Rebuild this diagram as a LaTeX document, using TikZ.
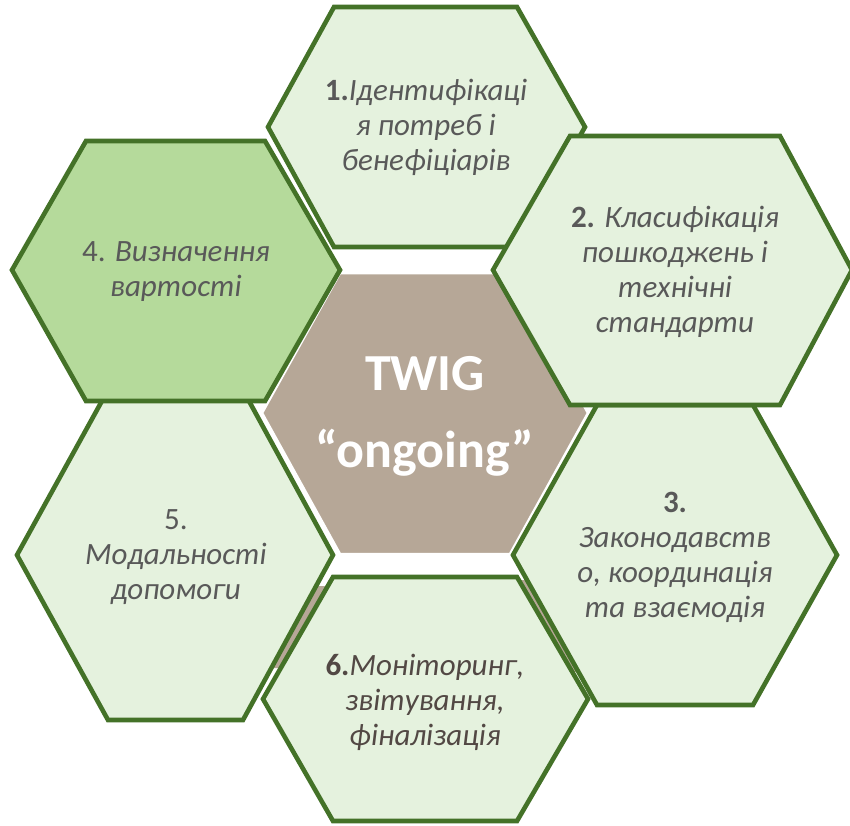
\documentclass[tikz,border=0pt]{standalone}
\usepackage{fontspec}
\setmainfont{Carlito}
\definecolor{hexline}{RGB}{68,114,40}
\definecolor{hexfill}{RGB}{229,242,222}
\definecolor{hexfilldark}{RGB}{181,218,155}
\definecolor{brownfill}{RGB}{182,167,151}
\definecolor{txtgray}{RGB}{89,89,89}
\definecolor{txtbrown}{RGB}{82,72,68}
\tikzset{
  greenhex/.style={draw=hexline, fill=hexfill, line width=4.6pt, line join=miter},
  darkhex/.style={greenhex, fill=hexfilldark},
  centerhex/.style={draw=white, fill=brownfill, line width=2.5pt},
  hextext/.style={align=center, inner sep=0pt, text=txtgray, font=\fontsize{31}{35}\selectfont},
  centertext/.style={inner sep=0pt, text=white, anchor=base, font=\fontsize{52}{60}\selectfont\bfseries}
}
\begin{document}
\begin{tikzpicture}[x=1pt, y=-1pt]
\useasboundingbox (0,0) rectangle (850,825);
% brown slivers behind
\fill[brownfill] (310,586) -- (335,586) -- (290,668) -- (265,668) -- cycle;
\fill[brownfill] (515,580) -- (535,580) -- (585,672) -- (565,672) -- cycle;
% central hexagon
\draw[centerhex] (340,273) -- (510,273) -- (588,413) -- (510,554) -- (340,554) -- (262,413) -- cycle;
% hex 5
\draw[greenhex] (108,390) -- (243,390) -- (333,555) -- (243,720) -- (108,720) -- (17,555) -- cycle;
% hex 4
\draw[darkhex] (86,141) -- (265,141) -- (340,270) -- (265,401) -- (86,401) -- (12,270) -- cycle;
% hex 1
\draw[greenhex] (334,7) -- (517,7) -- (585,127) -- (517,247) -- (334,247) -- (268,127) -- cycle;
% hex 6
\draw[greenhex] (333,577) -- (517,577) -- (588,699) -- (517,821) -- (333,821) -- (263,699) -- cycle;
% hex 3
\draw[greenhex] (597,405) -- (753,405) -- (837,555) -- (753,705) -- (597,705) -- (513,555) -- cycle;
% hex 2
\draw[greenhex] (570,136) -- (780,136) -- (852,270) -- (780,405) -- (570,405) -- (493,270) -- cycle;
% texts
\node[centertext] (c1) at (425,390) {TWIG};
\node[centertext] (c2) at (425,467) {“ongoing”};
\node[hextext] (t1) at (426,127) {\textbf{1.}\textit{Ідентифікаці}\\\textit{я потреб і}\\\textit{бенефіціарів}};
\node[hextext] (t2) at (675,272) {\textbf{2.} \textit{Класифікація}\\\textit{пошкоджень і}\\\textit{технічні}\\\textit{стандарти}};
\node[hextext] (t3) at (675,557) {\textbf{3.}\\\textit{Законодавств}\\\textit{о, координація}\\\textit{та взаємодія}};
\node[hextext] (t4) at (176,272) {4. \textit{Визначення}\\\textit{вартості}};
\node[hextext] (t5) at (176,557) {5.\\\textit{Модальності}\\\textit{допомоги}};
\node[hextext, text=txtbrown] (t6) at (425,702) {\textbf{6.}\textit{Моніторинг,}\\\textit{звітування,}\\\textit{фіналізація}};
\end{tikzpicture}
\end{document}
